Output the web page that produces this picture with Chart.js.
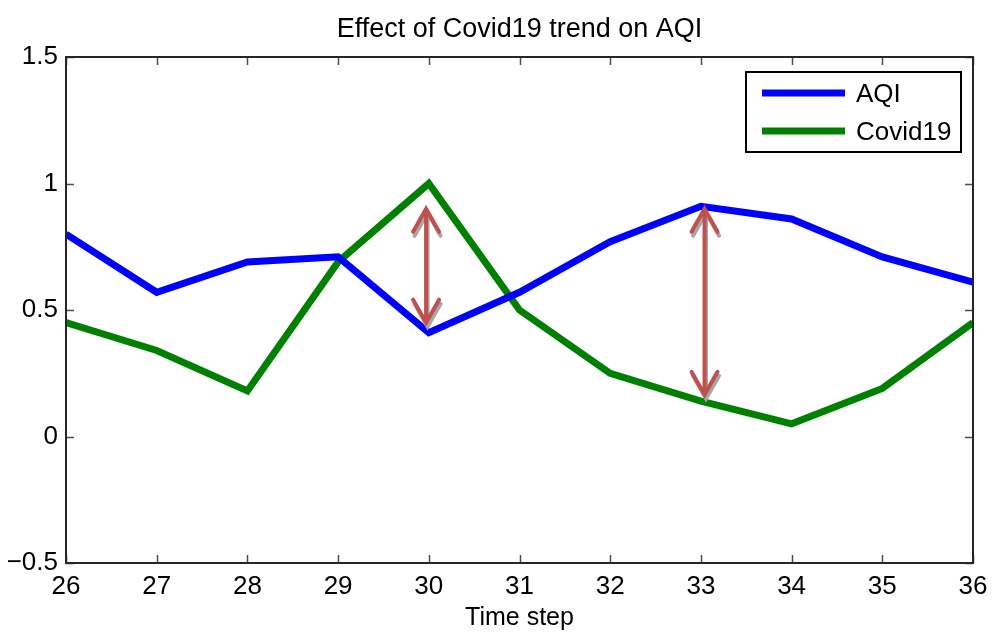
<!DOCTYPE html>
<html>
<head>
<meta charset="utf-8">
<script src="https://cdn.jsdelivr.net/npm/chart.js@4"></script>
<style>
  html, body { margin: 0; padding: 0; background: #fff; }
  canvas { display: block; }
</style>
</head>
<body>
<canvas id="chart" width="1000" height="634"></canvas>
<script>
const timeSteps = [26, 27, 28, 29, 30, 31, 32, 33, 34, 35, 36];
const aqiValues = [0.80, 0.57, 0.69, 0.71, 0.41, 0.57, 0.77, 0.91, 0.86, 0.71, 0.61];
const covidValues = [0.45, 0.34, 0.18, 0.69, 1.0, 0.50, 0.25, 0.14, 0.05, 0.19, 0.45];
const yTicks = [-0.5, 0, 0.5, 1, 1.5];
const chartTitle = 'Effect of Covid19 trend on AQI';

// double arrows drawn on top of the lines
const arrowX = [29.97, 33.04];
const arrowTop = [0.90, 0.90];
const arrowBottom = [0.45, 0.165];

const FONT = '"Liberation Sans", Arial, sans-serif';

function toPoints(values) {
    return timeSteps.map((t, i) => ({ x: t, y: values[i] }));
}

// MATLAB style box with inward ticks, title centred over the axes, legend and arrows
const boxPlugin = {
    id: 'boxPlugin',
    afterDatasetsDraw(chart) {
        const { ctx, chartArea, scales } = chart;
        const { left, right, top, bottom } = chartArea;
        ctx.save();

        // arrows
        for (let i = 0; i < arrowX.length; i++) {
            const x = scales.x.getPixelForValue(arrowX[i]);
            const y1 = scales.y.getPixelForValue(arrowTop[i]);
            const y2 = scales.y.getPixelForValue(arrowBottom[i]);
            const layers = [
                { dx: 1.5, dy: 4, color: '#a6a6a6' },
                { dx: 0, dy: 0, color: '#c0504d' }
            ];
            for (const l of layers) {
                ctx.strokeStyle = l.color;
                ctx.lineWidth = 4;
                ctx.lineCap = 'round';
                ctx.lineJoin = 'miter';
                ctx.beginPath();
                ctx.moveTo(x + l.dx, y1 + l.dy);
                ctx.lineTo(x + l.dx, y2 + l.dy);
                ctx.moveTo(x + l.dx - 13, y1 + 23 + l.dy);
                ctx.lineTo(x + l.dx, y1 + l.dy);
                ctx.lineTo(x + l.dx + 13, y1 + 23 + l.dy);
                ctx.moveTo(x + l.dx - 13, y2 - 23 + l.dy);
                ctx.lineTo(x + l.dx, y2 + l.dy);
                ctx.lineTo(x + l.dx + 13, y2 - 23 + l.dy);
                ctx.stroke();
            }
        }

        // ticks
        ctx.strokeStyle = '#4d4d4d';
        ctx.lineWidth = 1.5;
        ctx.lineCap = 'butt';
        ctx.beginPath();
        for (const t of timeSteps) {
            const x = Math.round(scales.x.getPixelForValue(t)) + 0.5;
            ctx.moveTo(x, bottom); ctx.lineTo(x, bottom - 8);
            ctx.moveTo(x, top); ctx.lineTo(x, top + 8);
        }
        for (const v of yTicks) {
            const y = Math.round(scales.y.getPixelForValue(v)) + 0.5;
            ctx.moveTo(left, y); ctx.lineTo(left + 8, y);
            ctx.moveTo(right, y); ctx.lineTo(right - 8, y);
        }
        ctx.stroke();

        // frame
        ctx.strokeStyle = '#262626';
        ctx.lineWidth = 2;
        ctx.strokeRect(left, top, right - left, bottom - top);

        // title
        ctx.fillStyle = '#000';
        ctx.font = '27px ' + FONT;
        ctx.textAlign = 'center';
        ctx.textBaseline = 'middle';
        ctx.fillText(chartTitle, (left + right) / 2, 30);

        // legend
        const lx = right - 227, ly = top + 15, lw = 215, lh = 80;
        ctx.fillStyle = '#fff';
        ctx.fillRect(lx, ly, lw, lh);
        ctx.strokeStyle = '#000';
        ctx.lineWidth = 2;
        ctx.strokeRect(lx, ly, lw, lh);
        const entries = [
            { label: 'AQI', color: '#0000ff' },
            { label: 'Covid19', color: '#008000' }
        ];
        ctx.font = '26px ' + FONT;
        ctx.textAlign = 'left';
        ctx.textBaseline = 'middle';
        entries.forEach((e, i) => {
            const y = ly + 21 + i * 38;
            ctx.strokeStyle = e.color;
            ctx.lineWidth = 7;
            ctx.beginPath();
            ctx.moveTo(lx + 16, y);
            ctx.lineTo(lx + 99, y);
            ctx.stroke();
            ctx.fillStyle = '#000';
            ctx.fillText(e.label, lx + 110, y + 2);
        });

        ctx.restore();
    }
};

new Chart(document.getElementById('chart'), {
    type: 'line',
    data: {
        datasets: [
            {
                label: 'AQI',
                data: toPoints(aqiValues),
                borderColor: '#0000ff',
                borderWidth: 7,
                pointRadius: 0,
                tension: 0,
                fill: false
            },
            {
                label: 'Covid19',
                data: toPoints(covidValues),
                borderColor: '#008000',
                borderWidth: 7,
                pointRadius: 0,
                tension: 0,
                fill: false
            }
        ]
    },
    options: {
        responsive: false,
        animation: false,
        layout: { padding: { left: 0, right: 27, top: 57, bottom: 0 } },
        plugins: {
            legend: { display: false },
            tooltip: { enabled: false },
            title: { display: false }
        },
        scales: {
            x: {
                type: 'linear',
                min: 26,
                max: 36,
                afterFit(scale) { scale.height = 71; },
                afterBuildTicks(scale) { scale.ticks = timeSteps.map(v => ({ value: v })); },
                grid: { display: false, drawTicks: false },
                border: { display: false },
                ticks: {
                    color: '#000',
                    font: { family: FONT, size: 26 },
                    padding: 8,
                    maxRotation: 0,
                    autoSkip: false
                },
                title: {
                    display: true,
                    text: 'Time step',
                    color: '#000',
                    font: { family: FONT, size: 25 },
                    padding: { top: 0, bottom: 1 }
                }
            },
            y: {
                min: -0.5,
                max: 1.5,
                afterFit(scale) { scale.width = 66; },
                afterBuildTicks(scale) { scale.ticks = yTicks.map(v => ({ value: v })); },
                grid: { display: false, drawTicks: false },
                border: { display: false },
                ticks: {
                    color: '#000',
                    font: { family: FONT, size: 26 },
                    padding: 8,
                    callback: v => (v < 0 ? '\u2212' + Math.abs(v) : String(v))
                }
            }
        }
    },
    plugins: [boxPlugin]
});
</script>
</body>
</html>
